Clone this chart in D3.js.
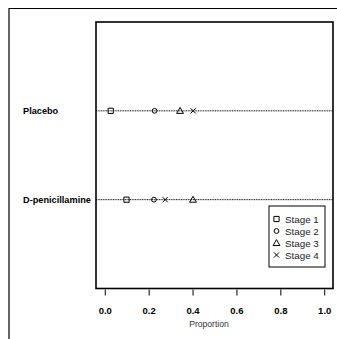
<!DOCTYPE html>
<html>
<head>
<meta charset="utf-8">
<script src="https://cdn.jsdelivr.net/npm/d3@7"></script>
<style>
  html, body { margin: 0; padding: 0; background: #fff; }
  svg { display: block; font-family: "Liberation Sans", Arial, Helvetica, sans-serif; }
</style>
</head>
<body>
<script>
// Treatment groups (top to bottom) and stage proportions within each group
const groups = ["Placebo", "D-penicillamine"];
const stages = ["Stage 1", "Stage 2", "Stage 3", "Stage 4"];
const placeboValues = [0.027, 0.227, 0.343, 0.403];
const dpenValues = [0.099, 0.224, 0.402, 0.275];
const xTicks = [0, 0.2, 0.4, 0.6, 0.8, 1.0];
const xTitle = "Proportion";

const seriesByGroup = { "Placebo": placeboValues, "D-penicillamine": dpenValues };

const W = 337, H = 339;
const panel = { left: 96, right: 333, top: 22, bottom: 288.5 };

const svg = d3.select("body").append("svg").attr("width", W).attr("height", H);

// outer device frame (runs off the right and bottom edges)
svg.append("path")
  .attr("d", `M9,${H} V8.5 H${W}`)
  .attr("fill", "none").attr("stroke", "#000").attr("stroke-width", 1.2);

// x range padded 4% on each side of [0, 1]
const x = d3.scaleLinear().domain([-0.04, 1.04]).range([panel.left, panel.right]);
const y = d3.scalePoint().domain(groups).range([panel.top, panel.bottom]).padding(1);

// dotted reference line per group
svg.append("g").selectAll("line").data(groups).join("line")
  .attr("x1", panel.left).attr("x2", panel.right)
  .attr("y1", d => y(d)).attr("y2", d => y(d))
  .attr("stroke", "#000").attr("stroke-width", 1)
  .attr("stroke-dasharray", "1,0.7");

// group labels
svg.append("g").selectAll("text").data(groups).join("text")
  .attr("x", 23).attr("y", d => y(d) + 3.3)
  .attr("font-size", 9.2).attr("font-weight", "bold")
  .attr("fill", "#000")
  .text(d => d);

// symbols for each stage
function symbolPath(i, cx, cy) {
  if (i === 0) { const s = 2.6; return `M${cx - s},${cy - s}H${cx + s}V${cy + s}H${cx - s}Z`; }
  if (i === 1) { const r = 2.4; return `M${cx - r},${cy}a${r},${r} 0 1,0 ${2 * r},0a${r},${r} 0 1,0 ${-2 * r},0Z`; }
  if (i === 2) { const s = 3.4; return `M${cx},${cy - s}L${cx + s},${cy + s * 0.75}L${cx - s},${cy + s * 0.75}Z`; }
  const s = 2.6; return `M${cx - s},${cy - s}L${cx + s},${cy + s}M${cx - s},${cy + s}L${cx + s},${cy - s}`;
}

const pts = [];
groups.forEach(g => seriesByGroup[g].forEach((v, i) => pts.push({ g, v, i })));
svg.append("g").selectAll("path").data(pts).join("path")
  .attr("d", d => symbolPath(d.i, x(d.v), y(d.g)))
  .attr("fill", "none").attr("stroke", "#000").attr("stroke-width", 1);

// panel frame
svg.append("rect")
  .attr("x", panel.left).attr("y", panel.top)
  .attr("width", panel.right - panel.left).attr("height", panel.bottom - panel.top)
  .attr("fill", "none").attr("stroke", "#000").attr("stroke-width", 1.6);

// x axis
const xAxis = d3.axisBottom(x).tickValues(xTicks).tickFormat(d3.format(".1f"))
  .tickSizeOuter(0).tickSizeInner(6).tickPadding(12);
const gx = svg.append("g").attr("transform", `translate(0,${panel.bottom + 1})`).call(xAxis);
gx.select(".domain").remove();
gx.selectAll(".tick line").attr("stroke", "#000").attr("stroke-width", 1);
gx.selectAll(".tick text")
  .attr("font-size", 9.5).attr("font-weight", "bold").attr("fill", "#000")
  .attr("font-family", "Liberation Sans, Arial, sans-serif");

svg.append("text")
  .attr("x", 209).attr("y", 327)
  .attr("text-anchor", "middle").attr("font-size", 8.6).attr("fill", "#333")
  .text(xTitle);

// legend
const lg = svg.append("g");
lg.append("rect").attr("x", 269).attr("y", 206).attr("width", 56).attr("height", 61)
  .attr("fill", "#fff").attr("stroke", "#000").attr("stroke-width", 1);
const ly = d3.scalePoint().domain(stages).range([219, 255]);
lg.selectAll("path").data(stages).join("path")
  .attr("d", (d, i) => symbolPath(i, 276.5, ly(d)))
  .attr("fill", "none").attr("stroke", "#000").attr("stroke-width", 1);
lg.selectAll("text").data(stages).join("text")
  .attr("x", 285).attr("y", d => ly(d) + 3.5)
  .attr("font-size", 9.8).attr("fill", "#222")
  .text(d => d);
</script>
</body>
</html>
